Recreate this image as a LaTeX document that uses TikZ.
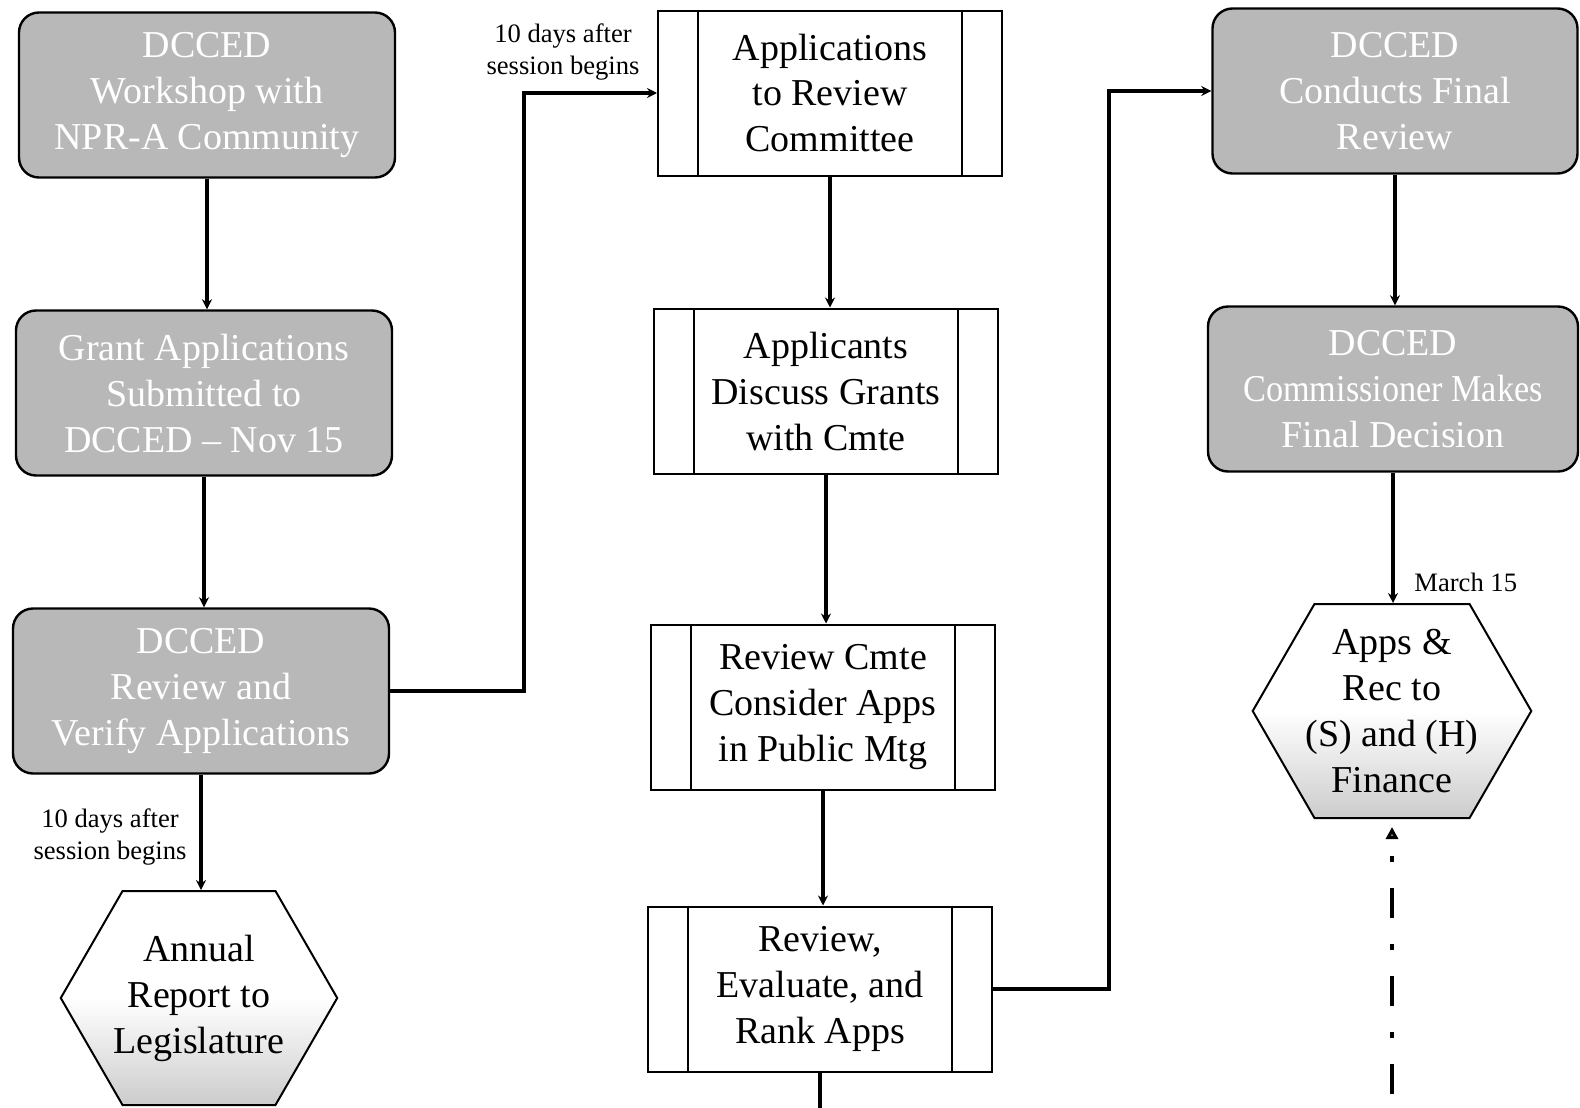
\documentclass[tikz,border=0pt]{standalone}
\usepackage{fontspec}
\setmainfont{Liberation Serif}
\usetikzlibrary{arrows.meta,shapes.symbols}
\definecolor{BoxGray}{RGB}{184,184,184}
\tikzset{
  graybox/.style={draw, line width=1.2pt, rounded corners=10pt, fill=BoxGray, text=white, align=center, inner sep=0pt, minimum width=188pt, minimum height=82.5pt, font=\fontsize{19}{23}\selectfont},
  procbox/.style={draw, line width=1pt, fill=white, align=center, inner sep=0pt, minimum width=172pt, minimum height=82.5pt, font=\fontsize{19}{23}\selectfont},
  hexbox/.style={draw, line width=1pt, signal, signal to=east and west, signal pointer angle=120, top color=white, bottom color=gray!40, middle color=white, align=center, inner ysep=0pt, inner xsep=-4.5pt, minimum width=10pt, minimum height=107pt, font=\fontsize{19}{23}\selectfont},
  link/.style={line width=1.8pt, -{Stealth[length=5pt,width=5pt]}},
  dashlink/.style={line width=2.4pt, {Triangle[length=6pt,width=6pt,fill=gray]}-, shorten <=4pt, dash pattern=on 3pt off 13pt on 15pt off 13pt, dash phase=35pt},
  note/.style={align=center, inner sep=0pt, font=\fontsize{13.3}{16}\selectfont},
}
\begin{document}
\begin{tikzpicture}[x=0.5pt,y=0.5pt,yscale=-1,xscale=1]
\useasboundingbox (0,0) rectangle (1580,1108);

%Rounded Rect: left column
\node[graybox] (g1) at (207,95) {DCCED\\Workshop with\\NPR-A Community};
\node[graybox] (g2) at (204,393) {Grant Applications\\Submitted to\\DCCED -- Nov 15};
\node[graybox] (g3) at (201,691) {DCCED\\Review and\\Verify Applications};
%Hexagon
\node[hexbox] (h1) at (199,998) {Annual\\Report to\\Legislature};

%Process boxes: middle column
\node[procbox] (m1) at (830,93) {Applications\\to Review\\Committee};
\node[procbox] (m2) at (826,391) {Applicants\\Discuss Grants\\with Cmte};
\node[procbox] (m3) at (823,707) {Review Cmte\\Consider Apps\\in Public Mtg};
\node[procbox] (m4) at (820,989) {Review,\\Evaluate, and\\Rank Apps};
\foreach \n in {m1,m2,m3,m4} {
  \draw[line width=1pt] ([xshift=20.5pt]\n.north west) -- ([xshift=20.5pt]\n.south west);
  \draw[line width=1pt] ([xshift=-20.5pt]\n.north east) -- ([xshift=-20.5pt]\n.south east);
}

%Rounded Rect: right column
\node[graybox, minimum width=182.5pt] (r1) at (1395,91) {DCCED\\Conducts Final\\Review};
\node[graybox, minimum width=185pt] (r2) at (1393,389) {DCCED\\\scalebox{0.9}[1]{Commissioner Makes}\\Final Decision};
%Hexagon
\node[hexbox] (h2) at (1392,711) {Apps \&\\Rec to\\(S) and (H)\\Finance};

%Straight Lines
\draw[link] (g1.south) -- (g1.south |- g2.north);
\draw[link] (g2.south) -- (g2.south |- g3.north);
\draw[link] (g3.south) -- (g3.south |- h1.north);
\draw[link] (g3.east) -- ++(134,0) |- (m1.west);
\draw[link] (m1.south) -- (m1.south |- m2.north);
\draw[link] (m2.south) -- (m2.south |- m3.north);
\draw[link] (m3.south) -- (m3.south |- m4.north);
\draw[link] (m4.east) -- ++(116,0) |- (r1.west);
\draw[link] (r1.south) -- (r1.south |- r2.north);
\draw[link] (r2.south) -- (r2.south |- h2.north);
\coordinate (m4end) at (820,1108);
\draw[line width=1.8pt] (m4.south) -- (m4end);
\coordinate (h2end) at (1392,1108);
\draw[dashlink] (h2.south) -- (h2end);

% Text Node
\node[note] (n1) at (563,52) {10 days after\\session begins};
% Text Node
\node[note] (n2) at (110,837) {10 days after\\session begins};
% Text Node
\node[note, anchor=west] (n3) at (1414,582) {March 15};

\end{tikzpicture}
\end{document}
